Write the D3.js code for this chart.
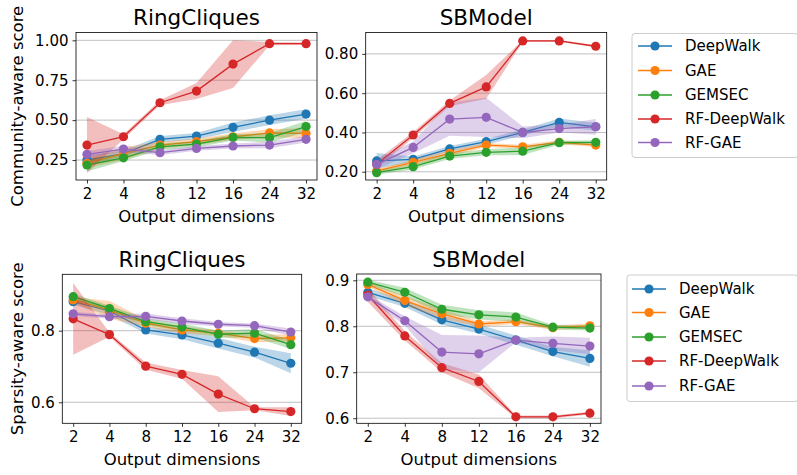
<!DOCTYPE html>
<html>
<head>
<meta charset="utf-8">
<script src="https://cdn.jsdelivr.net/npm/d3@7"></script>
<style>
  html, body { margin: 0; padding: 0; background: #fff; }
  svg { display: block; font-family: "DejaVu Sans", sans-serif; }
</style>
</head>
<body>
<svg id="chart" width="797" height="475"></svg>
<script>
// Output dimensions (x categories) and methods
const dims = ["2", "4", "8", "12", "16", "24", "32"];
const methods = ["DeepWalk", "GAE", "GEMSEC", "RF-DeepWalk", "RF-GAE"];
const colors = ["#1f77b4", "#ff7f0e", "#2ca02c", "#d62728", "#9467bd"];

// Community-aware score, RingCliques (mean per method, rows follow `methods`)
const ringCommunity = [
  [0.250, 0.290, 0.380, 0.400, 0.455, 0.500, 0.538],
  [0.230, 0.290, 0.344, 0.365, 0.396, 0.420, 0.417],
  [0.219, 0.264, 0.333, 0.350, 0.392, 0.390, 0.460],
  [0.344, 0.396, 0.609, 0.682, 0.851, 0.979, 0.979],
  [0.286, 0.319, 0.296, 0.323, 0.338, 0.344, 0.380]
];
const ringCommunitySpread = [
  [0.030, 0.020, 0.020, 0.020, 0.030, 0.030, 0.030],
  [0.030, 0.040, 0.020, 0.020, 0.020, 0.025, 0.030],
  [0.040, 0.020, 0.020, 0.020, 0.020, 0.030, 0.035],
  [0.175, 0.015, 0.015, 0.050, 0.150, 0.010, 0.008],
  [0.020, 0.020, 0.015, 0.015, 0.015, 0.020, 0.020]
];

// Community-aware score, SBModel
const sbmCommunity = [
  [0.255, 0.263, 0.316, 0.353, 0.400, 0.451, 0.429],
  [0.204, 0.248, 0.294, 0.336, 0.327, 0.350, 0.336],
  [0.195, 0.226, 0.280, 0.299, 0.305, 0.348, 0.350],
  [0.238, 0.387, 0.548, 0.632, 0.866, 0.866, 0.839],
  [0.238, 0.324, 0.468, 0.477, 0.400, 0.420, 0.429]
];
const sbmCommunitySpread = [
  [0.040, 0.015, 0.015, 0.015, 0.015, 0.020, 0.020],
  [0.010, 0.015, 0.015, 0.010, 0.010, 0.010, 0.010],
  [0.010, 0.015, 0.015, 0.015, 0.020, 0.010, 0.010],
  [0.020, 0.015, 0.015, 0.060, 0.005, 0.005, 0.005],
  [0.025, 0.030, 0.085, 0.100, 0.030, 0.020, 0.040]
];

// Sparsity-aware score, RingCliques
const ringSparsity = [
  [0.881, 0.855, 0.802, 0.788, 0.765, 0.740, 0.709],
  [0.886, 0.858, 0.821, 0.802, 0.793, 0.778, 0.780],
  [0.895, 0.862, 0.825, 0.810, 0.790, 0.793, 0.761],
  [0.833, 0.789, 0.701, 0.678, 0.623, 0.582, 0.574],
  [0.847, 0.839, 0.840, 0.827, 0.818, 0.814, 0.796]
];
const ringSparsitySpread = [
  [0.008, 0.012, 0.010, 0.012, 0.015, 0.015, 0.028],
  [0.008, 0.025, 0.010, 0.010, 0.008, 0.010, 0.010],
  [0.008, 0.008, 0.010, 0.010, 0.010, 0.012, 0.012],
  [0.100, 0.006, 0.010, 0.012, 0.050, 0.004, 0.012],
  [0.006, 0.006, 0.008, 0.008, 0.006, 0.006, 0.010]
];

// Sparsity-aware score, SBModel
const sbmSparsity = [
  [0.874, 0.850, 0.814, 0.794, 0.770, 0.745, 0.730],
  [0.891, 0.856, 0.827, 0.805, 0.810, 0.797, 0.801],
  [0.896, 0.874, 0.837, 0.825, 0.820, 0.798, 0.796],
  [0.868, 0.779, 0.710, 0.680, 0.603, 0.603, 0.611],
  [0.864, 0.812, 0.744, 0.740, 0.770, 0.763, 0.757]
];
const sbmSparsitySpread = [
  [0.008, 0.008, 0.010, 0.010, 0.010, 0.010, 0.018],
  [0.005, 0.010, 0.010, 0.006, 0.005, 0.005, 0.005],
  [0.005, 0.010, 0.010, 0.010, 0.010, 0.005, 0.005],
  [0.015, 0.010, 0.010, 0.015, 0.003, 0.003, 0.003],
  [0.005, 0.010, 0.037, 0.040, 0.005, 0.015, 0.018]
];

// Tick values per panel
const ringCommunityTicks = [0.25, 0.50, 0.75, 1.00];
const sbmCommunityTicks = [0.20, 0.40, 0.60, 0.80];
const ringSparsityTicks = [0.6, 0.8];
const sbmSparsityTicks = [0.6, 0.7, 0.8, 0.9];

const svg = d3.select("#chart");

const panels = [
  { title: "RingCliques", mean: ringCommunity, spread: ringCommunitySpread, ticks: ringCommunityTicks,
    fmt: ".2f", box: [76, 32.5, 317, 180], domain: [0.125, 1.049], ylabel: "Community-aware score" },
  { title: "SBModel", mean: sbmCommunity, spread: sbmCommunitySpread, ticks: sbmCommunityTicks,
    fmt: ".2f", box: [365.7, 32.5, 606.7, 180], domain: [0.158, 0.909] },
  { title: "RingCliques", mean: ringSparsity, spread: ringSparsitySpread, ticks: ringSparsityTicks,
    fmt: ".1f", box: [62.3, 274.3, 301.7, 423.3], domain: [0.5413, 0.9575], ylabel: "Sparsity-aware score" },
  { title: "SBModel", mean: sbmSparsity, spread: sbmSparsitySpread, ticks: sbmSparsityTicks,
    fmt: ".1f", box: [356.7, 274, 601, 423.3], domain: [0.589, 0.9137] }
];

panels.forEach(p => {
  const [x0, y0, x1, y1] = p.box;
  const x = d3.scalePoint().domain(dims).range([x0, x1]).padding(0.3);
  const y = d3.scaleLinear().domain(p.domain).range([y1, y0]);
  const g = svg.append("g");

  const clipId = "clip" + Math.round(x0) + "_" + Math.round(y0);
  g.append("clipPath").attr("id", clipId)
    .append("rect").attr("x", x0).attr("y", y0).attr("width", x1 - x0).attr("height", y1 - y0);

  // horizontal grid
  g.selectAll("line.grid").data(p.ticks).join("line")
    .attr("x1", x0).attr("x2", x1)
    .attr("y1", d => y(d)).attr("y2", d => y(d))
    .attr("stroke", "#b0b0b0").attr("stroke-width", 0.8);

  const plot = g.append("g").attr("clip-path", `url(#${clipId})`);

  methods.forEach((m, i) => {
    const rows = dims.map((d, j) => ({ d, v: p.mean[i][j], s: p.spread[i][j] }));
    const area = d3.area().x(r => x(r.d)).y0(r => y(r.v - r.s)).y1(r => y(r.v + r.s));
    plot.append("path").datum(rows).attr("d", area)
      .attr("fill", colors[i]).attr("fill-opacity", 0.3);
    const line = d3.line().x(r => x(r.d)).y(r => y(r.v));
    plot.append("path").datum(rows).attr("d", line)
      .attr("fill", "none").attr("stroke", colors[i]).attr("stroke-width", 1.3);
    g.selectAll(null).data(rows).join("circle")
      .attr("cx", r => x(r.d)).attr("cy", r => y(r.v)).attr("r", 4.6)
      .attr("fill", colors[i]);
  });

  // axes
  const xAxis = d3.axisBottom(x).tickSize(3.5).tickPadding(5);
  const gx = g.append("g").attr("transform", `translate(0,${y1})`).call(xAxis);
  const yAxis = d3.axisLeft(y).tickValues(p.ticks).tickFormat(d3.format(p.fmt)).tickSize(3.5).tickPadding(4);
  const gy = g.append("g").attr("transform", `translate(${x0},0)`).call(yAxis);
  [gx, gy].forEach(a => {
    a.select(".domain").remove();
    a.selectAll(".tick line").attr("stroke", "#000").attr("stroke-width", 0.8);
    a.selectAll(".tick text").attr("font-size", 15).attr("fill", "#000")
      .attr("font-family", "DejaVu Sans");
  });

  // frame
  g.append("rect").attr("x", x0).attr("y", y0).attr("width", x1 - x0).attr("height", y1 - y0)
    .attr("fill", "none").attr("stroke", "#000").attr("stroke-width", 0.8);

  // title
  g.append("text").attr("x", (x0 + x1) / 2).attr("y", y0 - 7.5)
    .attr("text-anchor", "middle").attr("font-size", 21.5).text(p.title);

  // x label
  g.append("text").attr("x", (x0 + x1) / 2).attr("y", y1 + 42)
    .attr("text-anchor", "middle").attr("font-size", 16.5).text("Output dimensions");

  if (p.ylabel) {
    g.append("text")
      .attr("transform", `translate(23,${(y0 + y1) / 2}) rotate(-90)`)
      .attr("text-anchor", "middle").attr("font-size", 16.5).text(p.ylabel);
  }
});

// legends
function legend(bx, by, bw, bh, lx0, lx1, tx, ys) {
  const g = svg.append("g");
  g.append("rect").attr("x", bx).attr("y", by).attr("width", bw).attr("height", bh)
    .attr("rx", 3).attr("fill", "#fff").attr("fill-opacity", 0.8)
    .attr("stroke", "#cccccc").attr("stroke-width", 1);
  methods.forEach((m, i) => {
    g.append("line").attr("x1", lx0).attr("x2", lx1).attr("y1", ys[i]).attr("y2", ys[i])
      .attr("stroke", colors[i]).attr("stroke-width", 1.3);
    g.append("circle").attr("cx", (lx0 + lx1) / 2).attr("cy", ys[i]).attr("r", 4.6).attr("fill", colors[i]);
    g.append("text").attr("x", tx).attr("y", ys[i]).attr("dy", "0.35em")
      .attr("font-size", 15).text(m);
  });
}
legend(632, 33.5, 166, 124, 638, 672, 685, [46, 70.5, 95, 119, 142.5]);
legend(627, 275, 171, 126.5, 632, 666, 679, [289, 312.5, 337, 361, 386]);
</script>
</body>
</html>
